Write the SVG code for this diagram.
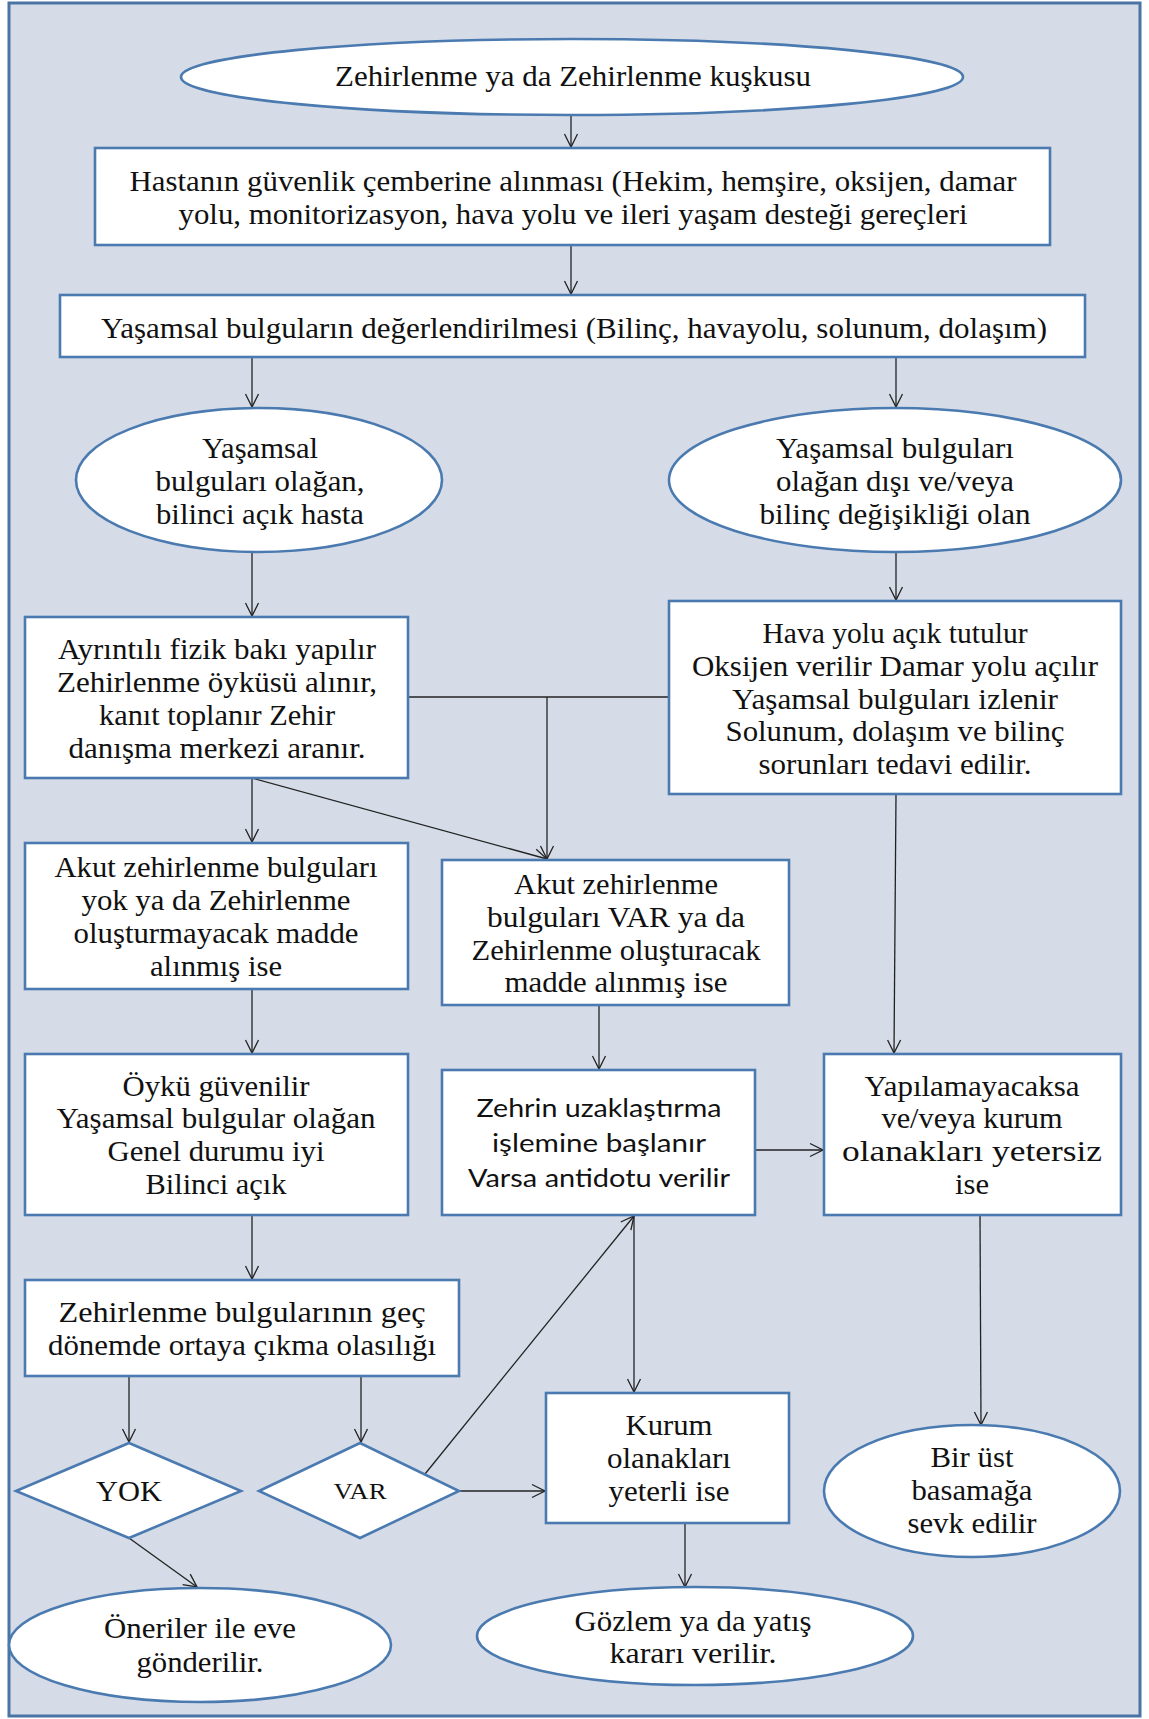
<svg xmlns="http://www.w3.org/2000/svg" width="1149" height="1719" viewBox="0 0 1149 1719">
<style>
.frame{fill:#d5dce7;stroke:#4a74a3;stroke-width:3}
.n{fill:#ffffff;stroke:#4a7ab0;stroke-width:2.6}
.t{font-family:'Liberation Serif','Times New Roman',Times,serif;font-size:30px;fill:#111;text-anchor:middle}
.s{font-family:Lato,'Open Sans','Liberation Sans',sans-serif;font-size:25px;fill:#111;text-anchor:middle}
.c{stroke:#222;stroke-width:1.3;fill:none}
.a{marker-end:url(#arr)}
</style>
<defs>
<marker id="arr" markerUnits="userSpaceOnUse" markerWidth="16" markerHeight="16" refX="14" refY="8" orient="auto">
<path d="M1,1.5 L14,8 L1,14.5" fill="none" stroke="#222" stroke-width="1.3"/>
</marker>
</defs>
<rect width="1149" height="1719" fill="#ffffff"/>
<rect class="frame" x="9" y="3" width="1131" height="1713"/>

<g id="connectors">
<line class="c a" x1="571" y1="115" x2="571" y2="147"/>
<line class="c a" x1="571" y1="245" x2="571" y2="294"/>
<line class="c a" x1="252" y1="357" x2="252" y2="407"/>
<line class="c a" x1="896" y1="357" x2="896" y2="407"/>
<line class="c a" x1="252" y1="552" x2="252" y2="616"/>
<line class="c a" x1="896" y1="552" x2="896" y2="600"/>
<line class="c" x1="408" y1="697" x2="669" y2="697"/>
<line class="c a" x1="547" y1="697" x2="547" y2="859"/>
<line class="c a" x1="252" y1="778" x2="252" y2="842"/>
<line class="c a" x1="252" y1="778" x2="547" y2="859"/>
<line class="c a" x1="896" y1="794" x2="894" y2="1053"/>
<line class="c a" x1="252" y1="989" x2="252" y2="1053"/>
<line class="c a" x1="599" y1="1005" x2="599" y2="1069"/>
<line class="c a" x1="755" y1="1150" x2="823" y2="1150"/>
<line class="c a" x1="252" y1="1215" x2="252" y2="1279"/>
<line class="c a" x1="129" y1="1376" x2="129" y2="1442"/>
<line class="c a" x1="361" y1="1376" x2="361" y2="1442"/>
<line class="c a" x1="425" y1="1474" x2="634" y2="1216"/>
<line class="c a" x1="634" y1="1216" x2="634" y2="1392"/>
<line class="c a" x1="459" y1="1491" x2="545" y2="1491"/>
<line class="c a" x1="685" y1="1523" x2="685" y2="1587"/>
<line class="c a" x1="129" y1="1538" x2="197" y2="1587"/>
<line class="c a" x1="980" y1="1215" x2="981" y2="1425"/>
</g>

<g id="n1">
<ellipse class="n" cx="572" cy="77" rx="391" ry="38"/>
<text class="t" x="573" y="86" textLength="476" lengthAdjust="spacingAndGlyphs">Zehirlenme ya da Zehirlenme kuşkusu</text>
</g>
<g id="n2">
<rect class="n" x="95" y="148" width="955" height="97"/>
<text class="t" x="573" y="191" textLength="887" lengthAdjust="spacingAndGlyphs">Hastanın güvenlik çemberine alınması (Hekim, hemşire, oksijen, damar</text>
<text class="t" x="573" y="224" textLength="789" lengthAdjust="spacingAndGlyphs">yolu, monitorizasyon, hava yolu ve ileri yaşam desteği gereçleri</text>
</g>
<g id="n3">
<rect class="n" x="60" y="295" width="1025" height="62"/>
<text class="t" x="574" y="338" textLength="946" lengthAdjust="spacingAndGlyphs">Yaşamsal bulguların değerlendirilmesi (Bilinç, havayolu, solunum, dolaşım)</text>
</g>
<g id="n4">
<ellipse class="n" cx="259" cy="480" rx="183" ry="72"/>
<text class="t" x="260" y="458" textLength="116" lengthAdjust="spacingAndGlyphs">Yaşamsal</text>
<text class="t" x="260" y="491" textLength="209" lengthAdjust="spacingAndGlyphs">bulguları olağan,</text>
<text class="t" x="260" y="524" textLength="208" lengthAdjust="spacingAndGlyphs">bilinci açık hasta</text>
</g>
<g id="n5">
<ellipse class="n" cx="895" cy="480" rx="226" ry="72"/>
<text class="t" x="895" y="458" textLength="238" lengthAdjust="spacingAndGlyphs">Yaşamsal bulguları</text>
<text class="t" x="895" y="491" textLength="238" lengthAdjust="spacingAndGlyphs">olağan dışı ve/veya</text>
<text class="t" x="895" y="524" textLength="271" lengthAdjust="spacingAndGlyphs">bilinç değişikliği olan</text>
</g>
<g id="n6">
<rect class="n" x="25" y="617" width="383" height="161"/>
<text class="t" x="217" y="659" textLength="318" lengthAdjust="spacingAndGlyphs">Ayrıntılı fizik bakı yapılır</text>
<text class="t" x="217" y="692" textLength="320" lengthAdjust="spacingAndGlyphs">Zehirlenme öyküsü alınır,</text>
<text class="t" x="217" y="725" textLength="236" lengthAdjust="spacingAndGlyphs">kanıt toplanır Zehir</text>
<text class="t" x="217" y="758" textLength="297" lengthAdjust="spacingAndGlyphs">danışma merkezi aranır.</text>
</g>
<g id="n7">
<rect class="n" x="669" y="601" width="452" height="193"/>
<text class="t" x="895" y="643" textLength="265" lengthAdjust="spacingAndGlyphs">Hava yolu açık tutulur</text>
<text class="t" x="895" y="676" textLength="406" lengthAdjust="spacingAndGlyphs">Oksijen verilir Damar yolu açılır</text>
<text class="t" x="895" y="709" textLength="326" lengthAdjust="spacingAndGlyphs">Yaşamsal bulguları izlenir</text>
<text class="t" x="895" y="741" textLength="339" lengthAdjust="spacingAndGlyphs">Solunum, dolaşım ve bilinç</text>
<text class="t" x="895" y="774" textLength="273" lengthAdjust="spacingAndGlyphs">sorunları tedavi edilir.</text>
</g>
<g id="n8">
<rect class="n" x="25" y="843" width="383" height="146"/>
<text class="t" x="216" y="877" textLength="323" lengthAdjust="spacingAndGlyphs">Akut zehirlenme bulguları</text>
<text class="t" x="216" y="910" textLength="269" lengthAdjust="spacingAndGlyphs">yok ya da Zehirlenme</text>
<text class="t" x="216" y="943" textLength="285" lengthAdjust="spacingAndGlyphs">oluşturmayacak madde</text>
<text class="t" x="216" y="976" textLength="132" lengthAdjust="spacingAndGlyphs">alınmış ise</text>
</g>
<g id="n9">
<rect class="n" x="442" y="860" width="347" height="145"/>
<text class="t" x="616" y="894" textLength="204" lengthAdjust="spacingAndGlyphs">Akut zehirlenme</text>
<text class="t" x="616" y="927" textLength="258" lengthAdjust="spacingAndGlyphs">bulguları VAR ya da</text>
<text class="t" x="616" y="960" textLength="289" lengthAdjust="spacingAndGlyphs">Zehirlenme oluşturacak</text>
<text class="t" x="616" y="992" textLength="223" lengthAdjust="spacingAndGlyphs">madde alınmış ise</text>
</g>
<g id="n10">
<rect class="n" x="25" y="1054" width="383" height="161"/>
<text class="t" x="216" y="1096" textLength="187" lengthAdjust="spacingAndGlyphs">Öykü güvenilir</text>
<text class="t" x="216" y="1128" textLength="319" lengthAdjust="spacingAndGlyphs">Yaşamsal bulgular olağan</text>
<text class="t" x="216" y="1161" textLength="217" lengthAdjust="spacingAndGlyphs">Genel durumu iyi</text>
<text class="t" x="216" y="1194" textLength="141" lengthAdjust="spacingAndGlyphs">Bilinci açık</text>
</g>
<g id="n11">
<rect class="n" x="442" y="1070" width="313" height="145"/>
<text class="s" x="599" y="1117" textLength="245" lengthAdjust="spacingAndGlyphs">Zehrin uzaklaştırma</text>
<text class="s" x="599" y="1152" textLength="214" lengthAdjust="spacingAndGlyphs">işlemine başlanır</text>
<text class="s" x="599" y="1187" textLength="262" lengthAdjust="spacingAndGlyphs">Varsa antidotu verilir</text>
</g>
<g id="n12">
<rect class="n" x="824" y="1054" width="297" height="161"/>
<text class="t" x="972" y="1096" textLength="215" lengthAdjust="spacingAndGlyphs">Yapılamayacaksa</text>
<text class="t" x="972" y="1128" textLength="181" lengthAdjust="spacingAndGlyphs">ve/veya kurum</text>
<text class="t" x="972" y="1161" textLength="260" lengthAdjust="spacingAndGlyphs">olanakları yetersiz</text>
<text class="t" x="972" y="1194" textLength="34" lengthAdjust="spacingAndGlyphs">ise</text>
</g>
<g id="n13">
<rect class="n" x="25" y="1280" width="434" height="96"/>
<text class="t" x="242" y="1322" textLength="367" lengthAdjust="spacingAndGlyphs">Zehirlenme bulgularının geç</text>
<text class="t" x="242" y="1355" textLength="388" lengthAdjust="spacingAndGlyphs">dönemde ortaya çıkma olasılığı</text>
</g>
<g id="n14">
<polygon class="n" points="16,1491 129,1443 241,1491 129,1538"/>
<text class="t" x="129" y="1501" style="font-size:29px" textLength="66" lengthAdjust="spacingAndGlyphs">YOK</text>
</g>
<g id="n15">
<polygon class="n" points="259,1491 360,1443 459,1491 360,1538"/>
<text class="t" x="360" y="1499" style="font-size:23px" textLength="53" lengthAdjust="spacingAndGlyphs">VAR</text>
</g>
<g id="n16">
<rect class="n" x="546" y="1393" width="243" height="130"/>
<text class="t" x="669" y="1435" textLength="87" lengthAdjust="spacingAndGlyphs">Kurum</text>
<text class="t" x="669" y="1468" textLength="124" lengthAdjust="spacingAndGlyphs">olanakları</text>
<text class="t" x="669" y="1501" textLength="121" lengthAdjust="spacingAndGlyphs">yeterli ise</text>
</g>
<g id="n17">
<ellipse class="n" cx="695" cy="1636" rx="218" ry="49"/>
<text class="t" x="693" y="1631" textLength="237" lengthAdjust="spacingAndGlyphs">Gözlem ya da yatış</text>
<text class="t" x="693" y="1663" textLength="167" lengthAdjust="spacingAndGlyphs">kararı verilir.</text>
</g>
<g id="n18">
<ellipse class="n" cx="200" cy="1645" rx="191" ry="57"/>
<text class="t" x="200" y="1638" textLength="192" lengthAdjust="spacingAndGlyphs">Öneriler ile eve</text>
<text class="t" x="200" y="1672" textLength="127" lengthAdjust="spacingAndGlyphs">gönderilir.</text>
</g>
<g id="n19">
<ellipse class="n" cx="972" cy="1491" rx="148" ry="66"/>
<text class="t" x="972" y="1467" textLength="83" lengthAdjust="spacingAndGlyphs">Bir üst</text>
<text class="t" x="972" y="1500" textLength="121" lengthAdjust="spacingAndGlyphs">basamağa</text>
<text class="t" x="972" y="1533" textLength="129" lengthAdjust="spacingAndGlyphs">sevk edilir</text>
</g>
</svg>
